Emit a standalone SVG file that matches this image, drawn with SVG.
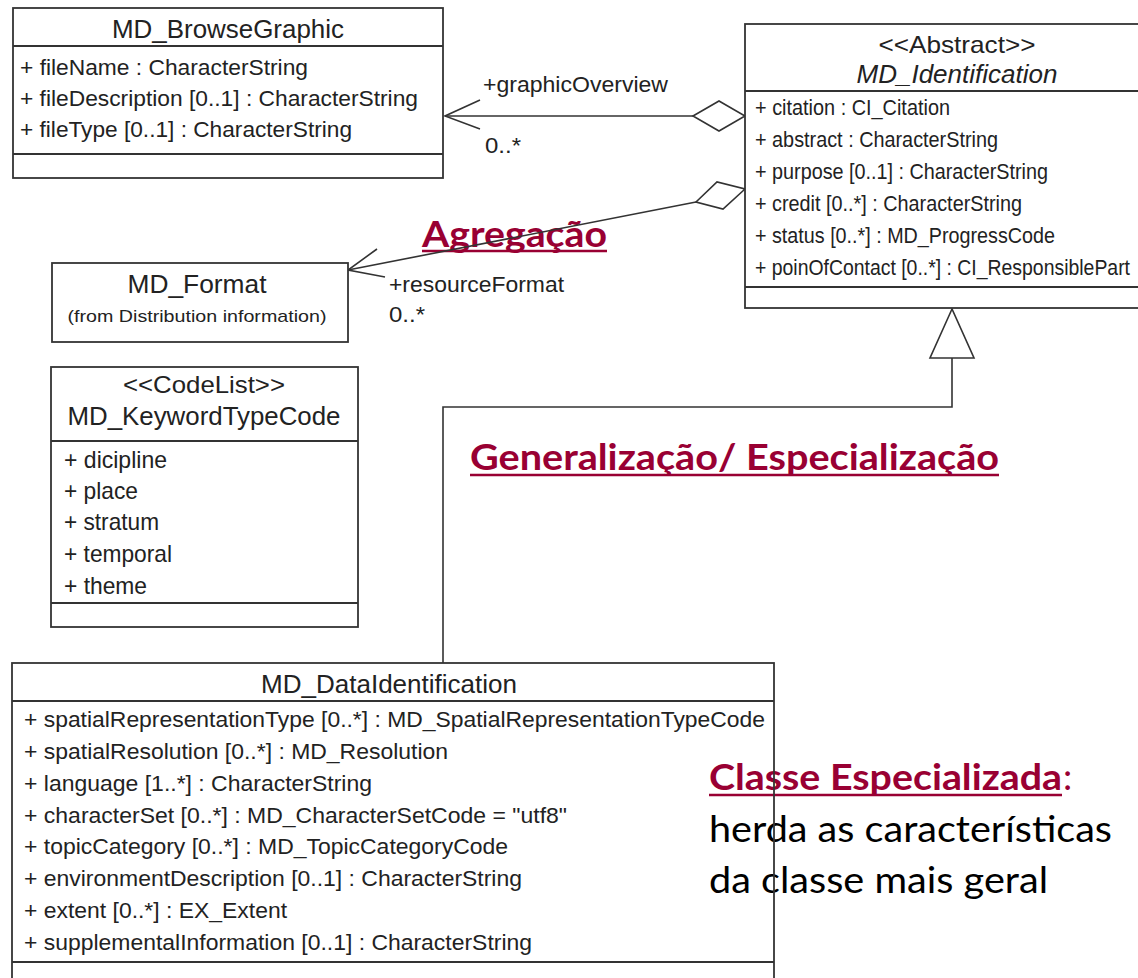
<svg xmlns="http://www.w3.org/2000/svg" width="1138" height="978" viewBox="0 0 1138 978">
<style>
.box{fill:#fff;stroke:#333;stroke-width:1.8}
.boxn{fill:none;stroke:#333;stroke-width:1.8}
.div{stroke:#333;stroke-width:1.8}
.u{font-family:"Liberation Sans",Arial,sans-serif;fill:#222}
.a{font-size:22px}
.t{font-size:25px}
.conn{stroke:#333;stroke-width:1.6;fill:none}
.head{stroke:#333;stroke-width:1.6;fill:#fff}
.note{font-family:Lato,"Open Sans",sans-serif;font-size:37px;fill:#000}
.red{fill:#990033;font-weight:bold;font-size:36px}
.ul{stroke:#990033;stroke-width:2.5}
</style>

<g id="annotations">
  <text class="note red" x="422" y="247" textLength="185" lengthAdjust="spacingAndGlyphs">Agregação</text>
  <line class="ul" x1="422" y1="251" x2="607" y2="251"/>
  <text class="note red" x="470" y="470" textLength="529" lengthAdjust="spacingAndGlyphs">Generalização/ Especialização</text>
  <line class="ul" x1="470" y1="475" x2="999" y2="475"/>
  <text class="note red" x="709" y="790" textLength="353" lengthAdjust="spacingAndGlyphs">Classe Especializada</text>
  <line class="ul" x1="709" y1="795" x2="1062" y2="795"/>
  <text class="note" x="1063" y="790" style="fill:#990033">:</text>
  <text class="note" x="709" y="842" textLength="403" lengthAdjust="spacingAndGlyphs">herda as características</text>
  <text class="note" x="709" y="893" textLength="339" lengthAdjust="spacingAndGlyphs">da classe mais geral</text>
</g>

<g id="connectors">
  <line class="conn" x1="445" y1="116" x2="693" y2="116"/>
  <polyline class="conn" points="480,100 445,116 480,129"/>
  <polygon class="head" points="693,116 719,101 745,116 719,131"/>
  <text class="u a" x="483" y="92" textLength="185" lengthAdjust="spacingAndGlyphs">+graphicOverview</text>
  <text class="u a" x="485" y="153" textLength="36" lengthAdjust="spacingAndGlyphs">0..*</text>
  <line class="conn" x1="348" y1="270" x2="696" y2="202"/>
  <polyline class="conn" points="377,249 348,270 385,277"/>
  <polygon class="head" points="696,202 717,182 745,189 723,209"/>
  <text class="u a" x="389" y="292" textLength="175" lengthAdjust="spacingAndGlyphs">+resourceFormat</text>
  <text class="u a" x="389" y="322" textLength="36" lengthAdjust="spacingAndGlyphs">0..*</text>
  <polyline class="conn" points="952,358 952,407 443,407 443,663"/>
  <polygon class="head" points="952,309 930,358 974,358"/>
</g>

<g id="MD_BrowseGraphic">
  <rect class="box" x="13" y="8" width="430" height="170"/>
  <line class="div" x1="13" y1="46" x2="443" y2="46"/>
  <line class="div" x1="13" y1="154" x2="443" y2="154"/>
  <text class="u t" x="228" y="38" text-anchor="middle" textLength="232" lengthAdjust="spacingAndGlyphs">MD_BrowseGraphic</text>
  <text class="u a" x="20" y="75" textLength="288" lengthAdjust="spacingAndGlyphs">+ fileName : CharacterString</text>
  <text class="u a" x="20" y="106" textLength="398" lengthAdjust="spacingAndGlyphs">+ fileDescription [0..1] : CharacterString</text>
  <text class="u a" x="20" y="137" textLength="332" lengthAdjust="spacingAndGlyphs">+ fileType [0..1] : CharacterString</text>
</g>

<g id="MD_Identification">
  <rect class="box" x="745" y="24" width="430" height="284"/>
  <line class="div" x1="745" y1="91" x2="1138" y2="91"/>
  <line class="div" x1="745" y1="287" x2="1138" y2="287"/>
  <text class="u" font-size="24" x="957" y="53" text-anchor="middle" textLength="157" lengthAdjust="spacingAndGlyphs">&lt;&lt;Abstract&gt;&gt;</text>
  <text class="u" font-size="26" font-style="italic" x="957" y="83" text-anchor="middle" textLength="201" lengthAdjust="spacingAndGlyphs">MD_Identification</text>
  <text class="u a" x="755" y="115" textLength="195" lengthAdjust="spacingAndGlyphs">+ citation : CI_Citation</text>
  <text class="u a" x="755" y="147" textLength="243" lengthAdjust="spacingAndGlyphs">+ abstract : CharacterString</text>
  <text class="u a" x="755" y="179" textLength="293" lengthAdjust="spacingAndGlyphs">+ purpose [0..1] : CharacterString</text>
  <text class="u a" x="755" y="211" textLength="267" lengthAdjust="spacingAndGlyphs">+ credit [0..*] : CharacterString</text>
  <text class="u a" x="755" y="243" textLength="300" lengthAdjust="spacingAndGlyphs">+ status [0..*] : MD_ProgressCode</text>
  <text class="u a" x="755" y="275" textLength="375" lengthAdjust="spacingAndGlyphs">+ poinOfContact [0..*] : CI_ResponsiblePart</text>
</g>

<g id="MD_Format">
  <rect class="box" x="52" y="263" width="296" height="79"/>
  <text class="u" font-size="26" x="197" y="293" text-anchor="middle" textLength="139" lengthAdjust="spacingAndGlyphs">MD_Format</text>
  <text class="u" font-size="17" x="197" y="322" text-anchor="middle" textLength="259" lengthAdjust="spacingAndGlyphs">(from Distribution information)</text>
</g>

<g id="MD_KeywordTypeCode">
  <rect class="box" x="51" y="367" width="307" height="260"/>
  <line class="div" x1="51" y1="441" x2="358" y2="441"/>
  <line class="div" x1="51" y1="603" x2="358" y2="603"/>
  <text class="u" font-size="24" x="204" y="393" text-anchor="middle" textLength="162" lengthAdjust="spacingAndGlyphs">&lt;&lt;CodeList&gt;&gt;</text>
  <text class="u t" x="204" y="425" text-anchor="middle" textLength="273" lengthAdjust="spacingAndGlyphs">MD_KeywordTypeCode</text>
  <text class="u" font-size="24" x="64" y="468" textLength="103" lengthAdjust="spacingAndGlyphs">+ dicipline</text>
  <text class="u" font-size="24" x="64" y="499" textLength="74" lengthAdjust="spacingAndGlyphs">+ place</text>
  <text class="u" font-size="24" x="64" y="530" textLength="95" lengthAdjust="spacingAndGlyphs">+ stratum</text>
  <text class="u" font-size="24" x="64" y="562" textLength="108" lengthAdjust="spacingAndGlyphs">+ temporal</text>
  <text class="u" font-size="24" x="64" y="594" textLength="83" lengthAdjust="spacingAndGlyphs">+ theme</text>
</g>

<g id="MD_DataIdentification">
  <rect class="boxn" x="12" y="663" width="762" height="330"/>
  <line class="div" x1="12" y1="701" x2="774" y2="701"/>
  <line class="div" x1="12" y1="962" x2="774" y2="962"/>
  <text class="u t" x="389" y="693" text-anchor="middle" textLength="256" lengthAdjust="spacingAndGlyphs">MD_DataIdentification</text>
  <text class="u a" x="24" y="727" textLength="741" lengthAdjust="spacingAndGlyphs">+ spatialRepresentationType [0..*] : MD_SpatialRepresentationTypeCode</text>
  <text class="u a" x="24" y="759" textLength="424" lengthAdjust="spacingAndGlyphs">+ spatialResolution [0..*] : MD_Resolution</text>
  <text class="u a" x="24" y="791" textLength="348" lengthAdjust="spacingAndGlyphs">+ language [1..*] : CharacterString</text>
  <text class="u a" x="24" y="823" textLength="543" lengthAdjust="spacingAndGlyphs">+ characterSet [0..*] : MD_CharacterSetCode = "utf8"</text>
  <text class="u a" x="24" y="854" textLength="484" lengthAdjust="spacingAndGlyphs">+ topicCategory [0..*] : MD_TopicCategoryCode</text>
  <text class="u a" x="24" y="886" textLength="498" lengthAdjust="spacingAndGlyphs">+ environmentDescription [0..1] : CharacterString</text>
  <text class="u a" x="24" y="918" textLength="263" lengthAdjust="spacingAndGlyphs">+ extent [0..*] : EX_Extent</text>
  <text class="u a" x="24" y="950" textLength="508" lengthAdjust="spacingAndGlyphs">+ supplementalInformation [0..1] : CharacterString</text>
</g>
</svg>
